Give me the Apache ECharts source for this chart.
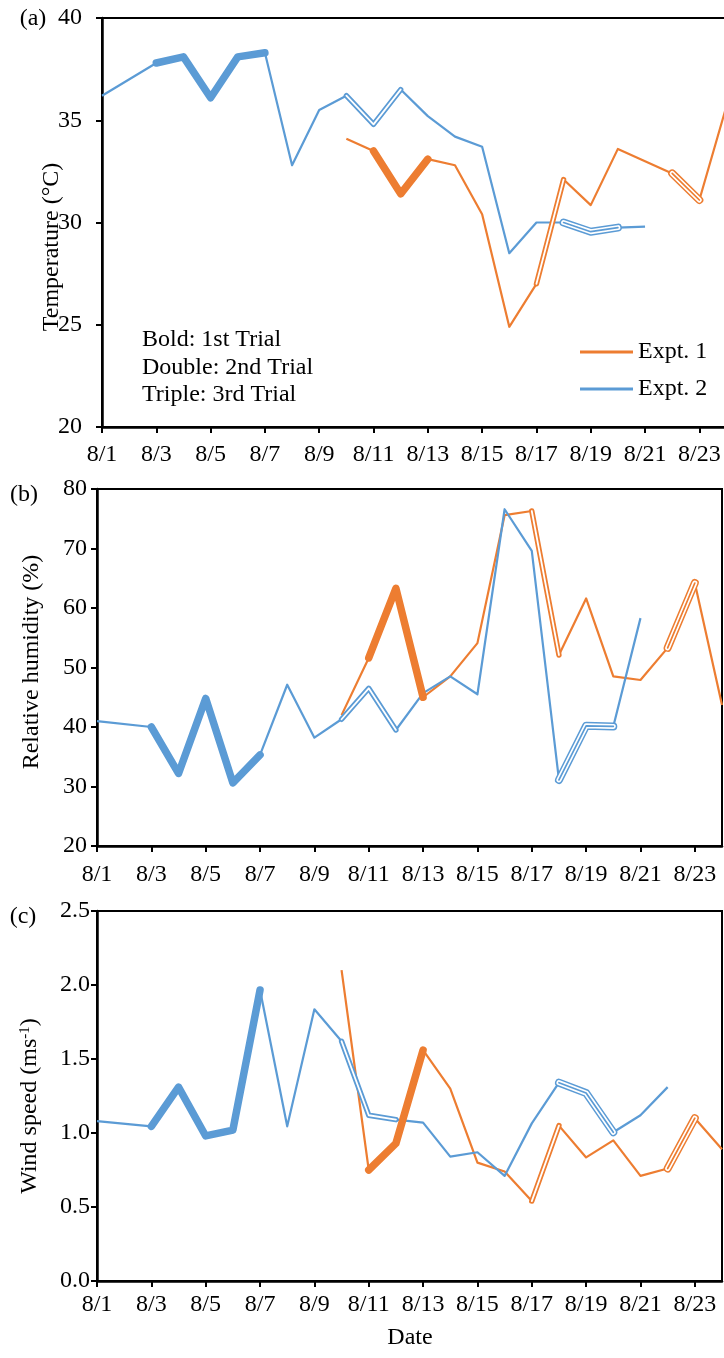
<!DOCTYPE html>
<html>
<head>
<meta charset="utf-8">
<script src="https://cdn.jsdelivr.net/npm/echarts@6/dist/echarts.min.js"></script>
<style>
html,body{margin:0;padding:0;overflow:hidden;background:#fff;}
#chart{width:730px;height:1358px;}
</style>
</head>
<body>
<div id="chart"></div>
<script>
// ---- data ----
const dates = ['8/1','8/2','8/3','8/4','8/5','8/6','8/7','8/8','8/9','8/10','8/11','8/12',
               '8/13','8/14','8/15','8/16','8/17','8/18','8/19','8/20','8/21','8/22','8/23','8/24'];

const tempExpt1 = [null,null,null,null,null,null,null,null,null,34.1,33.5,31.4,33.1,32.8,30.4,24.9,27.0,32.1,30.85,33.6,33.0,32.4,31.1,35.7];
const tempExpt2 = [36.2,null,37.8,38.1,36.1,38.1,38.3,32.8,35.5,36.2,34.8,36.5,35.2,34.2,33.7,28.5,30.0,30.0,29.55,29.75,29.8,null,null,null];

const rhExpt1 = [null,null,null,null,null,null,null,null,null,42.0,51.6,63.3,45.0,48.5,54.1,75.6,76.3,52.1,61.6,48.5,47.9,53.3,64.2,43.7];
const rhExpt2 = [41.0,null,40.0,32.2,44.8,30.6,35.3,47.1,38.2,41.3,46.5,39.5,45.7,48.5,45.5,76.6,69.6,31.1,40.2,40.1,58.3,null,null,null];

const windExpt1 = [null,null,null,null,null,null,null,null,null,2.10,0.75,0.93,1.56,1.30,0.80,0.74,0.54,1.05,0.835,0.95,0.71,0.76,1.10,0.89];
const windExpt2 = [1.08,null,1.045,1.31,0.98,1.02,1.966,1.045,1.836,1.62,1.12,1.09,1.07,0.84,0.87,0.71,1.065,1.34,1.27,1.005,1.12,1.31,null,null];

// trial periods (day of August, inclusive)
const trialsExpt1 = {bold:[11,13], double:[17,18], triple:[22,23]};
const trialsExpt2 = {bold:[3,7],  double:[10,12], triple:[18,20]};

const legendNames = ['Expt. 1','Expt. 2'];
const ORANGE = '#ED7D31', BLUE = '#5B9BD5';
const FONT = '"Liberation Serif","Times New Roman",serif';
const FS = 24;

// ---- helpers ----
function mask(arr, from, to){
  return arr.map((v,i)=> (i+1>=from && i+1<=to) ? v : null);
}
function overlay(grid, data, color, width, z){
  return {type:'line', xAxisIndex:grid, yAxisIndex:grid, data:data, connectNulls:true,
    symbol:'none', silent:true, z:z, emphasis:{disabled:true},
    lineStyle:{width:width, color:color, cap:'round', join:'round'}};
}
function expSeries(grid, name, color, data, trials){
  const s = [];
  s.push({name:name, type:'line', xAxisIndex:grid, yAxisIndex:grid, data:data, connectNulls:true,
    symbol:'none', silent:true, color:color, z:2, emphasis:{disabled:true},
    lineStyle:{width:2.2, color:color, join:'round'}});
  const b = trials.bold, d = trials.double, t = trials.triple;
  s.push(overlay(grid, mask(data,b[0],b[1]), color, 7.5, 3));
  s.push(overlay(grid, mask(data,d[0],d[1]), color, 5.4, 3));
  s.push(overlay(grid, mask(data,d[0],d[1]), '#ffffff', 1.8, 4));
  s.push(overlay(grid, mask(data,t[0],t[1]), color, 8.0, 3));
  s.push(overlay(grid, mask(data,t[0],t[1]), '#ffffff', 5.0, 4));
  s.push(overlay(grid, mask(data,t[0],t[1]), color, 1.7, 5));
  return s;
}
function xAxis(grid, margin){
  return {type:'category', gridIndex:grid, data:dates, boundaryGap:false,
    axisLine:{show:true, onZero:false, lineStyle:{color:'#000', width:2.5}},
    axisTick:{show:true, interval:1, length:6, lineStyle:{color:'#000', width:2}},
    axisLabel:{interval:1, margin:margin, color:'#000', fontSize:FS, fontFamily:FONT},
    splitLine:{show:false}};
}
function yAxis(grid, min, max, interval, margin, dec){
  return {type:'value', gridIndex:grid, min:min, max:max, interval:interval,
    axisLine:{show:true, lineStyle:{color:'#000', width:2.5}},
    axisTick:{show:true, length:6, lineStyle:{color:'#000', width:2}},
    axisLabel:{margin:margin, color:'#000', fontSize:FS, fontFamily:FONT,
      formatter: v => dec ? v.toFixed(1) : String(v)},
    splitLine:{show:false}};
}
function txt(x, y, text, opts){
  return Object.assign({type:'text', x:x, y:y, silent:true,
    style:Object.assign({text:text, fontSize:FS, fontFamily:FONT, fill:'#000',
      align:'center', verticalAlign:'middle', textAlign:'center', textVerticalAlign:'middle'}, opts && opts.style || {})},
    opts && opts.rotation !== undefined ? {rotation:opts.rotation} : {});
}

const series = [].concat(
  expSeries(0, 'Expt. 1', ORANGE, tempExpt1, trialsExpt1),
  expSeries(0, 'Expt. 2', BLUE, tempExpt2, trialsExpt2),
  expSeries(1, 'Expt. 1', ORANGE, rhExpt1, trialsExpt1),
  expSeries(1, 'Expt. 2', BLUE, rhExpt2, trialsExpt2),
  expSeries(2, 'Expt. 1', ORANGE, windExpt1, trialsExpt1),
  expSeries(2, 'Expt. 2', BLUE, windExpt2, trialsExpt2)
);

const option = {
  animation:false,
  backgroundColor:'#fff',
  grid:[
    {left:102, top:18, right:3.5, height:409, show:true, borderColor:'#000', borderWidth:2, containLabel:false},
    {left:97, top:489, right:8, height:357, show:true, borderColor:'#000', borderWidth:2, containLabel:false},
    {left:97, top:911, right:8, height:370, show:true, borderColor:'#000', borderWidth:2, containLabel:false}
  ],
  xAxis:[xAxis(0,16), xAxis(1,17), xAxis(2,12)],
  yAxis:[yAxis(0,20,40,5,20,false), yAxis(1,20,80,10,10,false), yAxis(2,0,2.5,0.5,7,true)],
  legend:{data:legendNames, orient:'vertical', left:575, top:335, icon:'rect',
    itemWidth:53, itemHeight:3, itemGap:13, itemStyle:{borderWidth:0},
    textStyle:{fontSize:FS, fontFamily:FONT, color:'#000'}, selectedMode:false},
  graphic:[
    txt(33, 19, '(a)'),
    txt(24, 495, '(b)'),
    txt(23, 917, '(c)'),
    txt(142, 326, 'Bold: 1st Trial\nDouble: 2nd Trial\nTriple: 3rd Trial',
      {style:{align:'left', textAlign:'left', verticalAlign:'top', textVerticalAlign:'top', lineHeight:27.5}}),
    txt(52, 247, 'Temperature (°C)', {rotation:Math.PI/2}),
    txt(32, 662, 'Relative humidity (%)', {rotation:Math.PI/2}),
    txt(30, 1106, 'Wind speed (ms{sup|-1})', {rotation:Math.PI/2,
      style:{rich:{sup:{fontSize:15, fontFamily:FONT, fill:'#000', verticalAlign:'top', lineHeight:24}}}}),
    txt(410, 1338, 'Date')
  ],
  series:series
};

const chart = echarts.init(document.getElementById('chart'), null, {renderer:'canvas'});
chart.setOption(option);
</script>
</body>
</html>
